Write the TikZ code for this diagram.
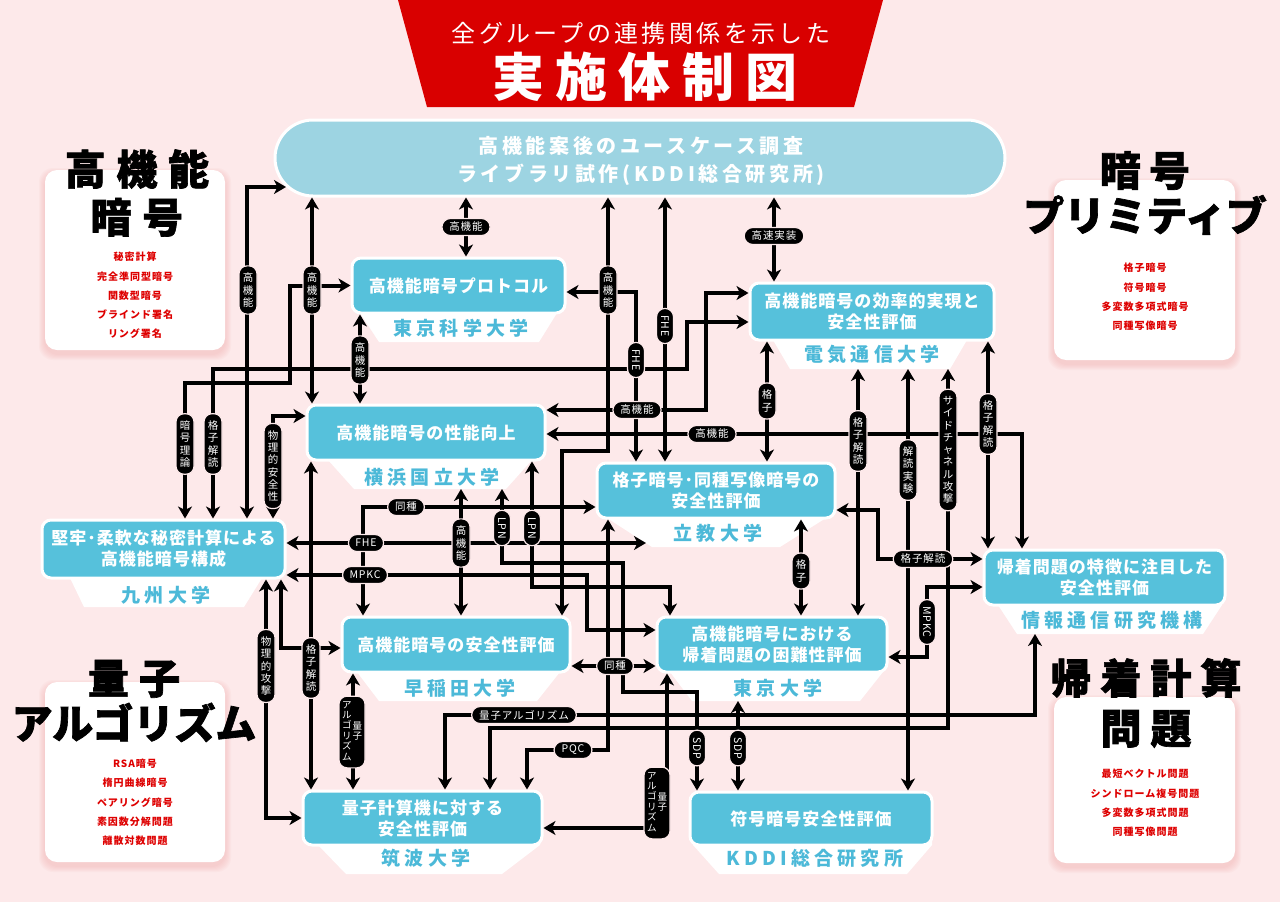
\documentclass[tikz,border=0pt]{standalone}
\usepackage{fontspec}
\setmainfont{Noto Sans CJK JP}
\newfontfamily\heavyfont{Noto Sans CJK JP}[FakeBold=1.6]
\usetikzlibrary{arrows.meta,shapes.misc}
\definecolor{bg}{RGB}{253,233,234}
\definecolor{tred}{RGB}{217,0,0}
\definecolor{bnrc}{RGB}{157,212,226}
\definecolor{bxc}{RGB}{86,193,219}
\definecolor{lblc}{RGB}{76,185,216}
\definecolor{itmc}{RGB}{222,0,0}
\definecolor{shdc}{RGB}{240,170,170}
\newcommand\fs[2]{\fontsize{#1}{#2}\selectfont}
\newcommand\ls[1]{\addfontfeature{LetterSpace=#1}}
\newcommand\vcol[1]{{\renewcommand\arraystretch{0.9}\begin{tabular}{@{}c@{}}#1\end{tabular}}}
\newcommand\catbox[4]{%
  \foreach \i in {1,...,6}{\fill[shdc,opacity=0.08,rounded corners=14pt] ({#1-\i},{#2-\i+4}) rectangle ({#3+\i},{#4+\i+4});}
  \fill[white,rounded corners=12pt] (#1,#2) rectangle (#3,#4);}
\newcommand\lbltab[5]{%
  \fill[white] (#1,{#3-6}) -- (#2,{#3-6}) -- (#2,#3) -- ({#4+#5},{#3+29}) -- ({#4-#5},{#3+29}) -- (#1,#3) -- cycle;}
\tikzset{
  hd/.tip={Stealth[length=12pt,width=14pt,inset=3.5pt]},
  conn/.style={draw=black, line width=4pt, hd-hd},
  box/.style={rectangle, rounded corners=9pt, fill=bxc, draw=white, line width=3pt, text=white, align=center, inner sep=0pt, font=\bfseries\fs{17}{21}\ls{6}},
  tablbl/.style={text=lblc, inner sep=0pt, font=\bfseries\fs{19}{22}\ls{22}},
  hpill/.style={rounded rectangle, fill=black, draw=bg, line width=1.2pt, text=white, minimum height=17pt, inner xsep=6pt, inner ysep=0pt, font=\fs{10.5}{12}\ls{8}},
  vpill/.style={rectangle, rounded corners=8pt, fill=black, draw=bg, line width=1.2pt, text=white, minimum width=18pt, inner xsep=0pt, inner ysep=7pt, align=center, font=\fs{10.5}{12.3}},
  qpill/.style={rectangle, rounded corners=8pt, fill=black, draw=bg, line width=1.2pt, text=white, inner xsep=3pt, inner ysep=5pt, font=\fs{9.5}{10.5}},
  head/.style={text=black, align=center, inner sep=0pt},
  item/.style={text=itmc, align=center, inner sep=0pt, font=\bfseries\fs{10}{19.3}\ls{10}}
}
\begin{document}
\begin{tikzpicture}[x=1pt,y=-1pt]
\useasboundingbox (0,0) rectangle (1280,902);
\fill[bg] (0,0) rectangle (1280,902);
% title
\fill[tred] (398,0) -- (883,0) -- (854,107) -- (427,107) -- cycle;
\node[text=white, inner sep=0pt, font=\fs{24}{28}\ls{14}] (sub) at (641,33) {全グループの連携関係を示した};
\node[text=white, inner sep=0pt, font=\bfseries\fs{52}{56}\ls{22}] (ttl) at (645,77) {実施体制図};
% category boxes
\catbox{45}{170}{225}{350}
\catbox{1054}{180}{1235}{360}
\catbox{45}{682}{225}{862}
\catbox{1054}{697}{1235}{863}
\node[head, font=\heavyfont\bfseries\fs{41}{48}\ls{26}] (h1) at (137,193) {高機能\\暗号};
\node[head, font=\heavyfont\bfseries\fs{41}{45}] (h2) at (1145,193) {{\ls{20}暗号}\\プリミティブ};
\node[head, font=\heavyfont\bfseries\fs{41}{45}] (h3) at (134,701) {{\ls{25}量子}\\アルゴリズム};
\node[head, font=\heavyfont\bfseries\fs{41}{50}\ls{22}] (h4) at (1146,703) {帰着計算\\問題};
\node[item] (i1) at (135,295.5) {秘密計算\\完全準同型暗号\\関数型暗号\\ブラインド署名\\リング署名};
\node[item] (i2) at (1145,297) {格子暗号\\符号暗号\\多変数多項式暗号\\同種写像暗号};
\node[item] (i3) at (135,802.5) {RSA暗号\\楕円曲線暗号\\ペアリング暗号\\素因数分解問題\\離散対数問題};
\node[item] (i4) at (1145,803) {最短ベクトル問題\\シンドローム複号問題\\多変数多項式問題\\同種写像問題};
% banner
\node[rounded rectangle, fill=bnrc, draw=white, line width=3pt, minimum width=730pt, minimum height=76pt, inner sep=0pt] (bnr) at (640,158) {};
\node[text=white, align=center, inner sep=0pt, font=\bfseries\fs{20}{28}\ls{18}] (bnrtxt) at (641,161) {高機能案後のユースケース調査\\ライブラリ試作(KDDI総合研究所)};
\coordinate (bnrL) at (286,187);
% label tabs
\lbltab{360}{557}{313}{459}{80}
\lbltab{773}{967}{340}{870}{80}
\lbltab{328}{532}{460}{430}{76}
\lbltab{607}{826}{518}{716}{64}
\lbltab{70}{262}{578}{164}{80}
\lbltab{998}{1222}{605}{1110}{93}
\lbltab{357}{560}{672}{458}{79}
\lbltab{670}{883}{672}{776}{84}
\lbltab{318}{540}{845}{424}{78}
\lbltab{693}{932}{845}{813}{94}
\coordinate (sciT) at (459,342);
\coordinate (uecT) at (870,369);
\coordinate (ynuT) at (430,489);
\coordinate (rikT) at (716,547);
\coordinate (rikTL) at (646,543);
\coordinate (nictT) at (1110,634);
\coordinate (utoT) at (776,701);
\node[tablbl] (sciL) at (461,328) {東京科学大学};
\node[tablbl] (uecL) at (872,354) {電気通信大学};
\node[tablbl] (ynuL) at (432,477) {横浜国立大学};
\node[tablbl] (rikL) at (718,533) {立教大学};
\node[tablbl] (kyuL) at (166,595) {九州大学};
\node[tablbl] (nictL) at (1112,620) {情報通信研究機構};
\node[tablbl] (wasL) at (460,688) {早稲田大学};
\node[tablbl] (utoL) at (778,688) {東京大学};
\node[tablbl] (tsuL) at (426,858) {筑波大学};
\node[tablbl] (kddiL) at (815,858) {KDDI総合研究所};
% boxes
\node[box, minimum width=213pt, minimum height=55pt] (sci) at (458.5,285.5) {高機能暗号プロトコル};
\node[box, minimum width=244pt, minimum height=57pt] (uec) at (872,311.5) {高機能暗号の効率的実現と\\安全性評価};
\node[box, minimum width=238pt, minimum height=55pt] (ynu) at (426,432.5) {高機能暗号の性能向上};
\node[box, minimum width=238pt, minimum height=55pt] (rik) at (716,490.5) {格子暗号･同種写像暗号の\\安全性評価};
\node[box, minimum width=243pt, minimum height=58pt] (kyu) at (163.5,549) {堅牢･柔軟な秘密計算による\\高機能暗号構成};
\node[box, minimum width=241pt, minimum height=55pt] (nict) at (1104.5,577.5) {帰着問題の特徴に注目した\\安全性評価};
\node[box, minimum width=228pt, minimum height=55pt] (was) at (456,644.5) {高機能暗号の安全性評価};
\node[box, minimum width=230pt, minimum height=55pt] (uto) at (772,644.5) {高機能暗号における\\帰着問題の困難性評価};
\node[box, minimum width=239pt, minimum height=54pt] (tsu) at (422.5,818) {量子計算機に対する\\安全性評価};
\node[box, minimum width=242pt, minimum height=53pt] (kddi) at (811,818.5) {符号暗号安全性評価};
% connectors
\draw[conn] (kyu.north -| 247,0) -- (247,187) -- (bnrL);
\draw[conn] (bnr.south -| 312,0) -- (ynu.north -| 312,0);
\draw[conn] (kyu.north -| 185,0) |- (290,383) |- (sci.west);
\draw[conn] (bnr.south -| 466,0) -- (sci.north -| 466,0);
\draw[conn] (bnr.south -| 608,0) -- (608,451) -| (was.north -| 562,0);
\draw[conn] (sci.east |- 0,292) -| (rik.north -| 636,0);
\draw[conn] (bnr.south -| 665,0) -- (rik.north -| 665,0);
\draw[conn] (bnr.south -| 774,0) -- (uec.north -| 774,0);
\draw[conn] (sci.south -| 360,0) -- (ynu.north -| 360,0);
\draw[conn] (kyu.north -| 213,0) |- (687,369) |- (uec.west |- 0,322);
\draw[conn] (ynu.east |- 0,410) -| (706,293) -- (uec.west |- 0,293);
\draw[conn] (ynu.east |- 0,434) -| (nict.north -| 1022,0);
\draw[conn] (kyu.north -| 273,0) |- (ynu.west |- 0,416);
\draw[conn] (uec.south -| 767,0) -- (rik.north -| 767,0);
\draw[conn] (uecT -| 858,0) -- (uto.north -| 858,0);
\draw[conn] (uecT -| 908,0) -- (kddi.north -| 908,0);
\draw[conn] (uecT -| 948,0) |- (490,728) -- (tsu.north -| 490,0);
\draw[conn] (uec.south -| 988,0) -- (nict.north -| 988,0);
\draw[conn] (rik.east |- 0,510) -| (878,559) -- (nict.west |- 0,559);
\draw[conn] (uto.east |- 0,657) -| (927,587) -- (nict.west |- 0,587);
\draw[conn] (rik.south -| 801,0) -- (uto.north -| 801,0);
\draw[conn] (kyu.east |- 0,543) -- (rikTL);
\draw[conn] (was.north -| 363,0) |- (rik.west |- 0,507);
\draw[conn] (kyu.east |- 0,575) -| (587,630) -- (uto.west |- 0,630);
\draw[conn] (ynuT -| 461,0) -- (was.north -| 461,0);
\draw[conn] (ynu.south -| 532,0) |- (670,587) -- (uto.north -| 670,0);
\draw[conn] (ynuT -| 502,0) |- (623,563) |- (697,692) -- (kddi.north -| 697,0);
\draw[conn] (rik.south -| 608,0) |- (527,750) -- (tsu.north -| 527,0);
\draw[conn] (utoT -| 738,0) -- (kddi.north -| 738,0);
\draw[conn] (was.east |- 0,666) -- (uto.west |- 0,666);
\draw[conn] (was.south -| 353,0) -- (tsu.north -| 353,0);
\draw[conn] (tsu.north -| 445,0) |- (1035,715) -- (nictT -| 1035,0);
\draw[conn] (uto.south -| 667,0) |- (tsu.east |- 0,828);
\draw[conn] (ynu.south -| 311,0) -- (tsu.north -| 311,0);
\draw[conn] (kyu.south -| 281,0) |- (was.west |- 0,648);
\draw[conn] (kyu.south -| 266,0) |- (tsu.west |- 0,818);
% pills
\node[vpill] (p1) at (248,290) {高\\機\\能};
\node[vpill] (p2) at (312,290) {高\\機\\能};
\node[vpill] (p3) at (185,444) {暗\\号\\理\\論};
\node[hpill] (p4) at (466,227) {高機能};
\node[vpill] (p5) at (608,290) {高\\機\\能};
\node[hpill,rotate=-90] (p6) at (636,360) {FHE};
\node[hpill,rotate=-90] (p7) at (665,326) {FHE};
\node[hpill] (p8) at (774,236) {高速実装};
\node[vpill] (p9) at (360,360) {高\\機\\能};
\node[vpill] (p10) at (213,444) {格\\子\\解\\読};
\node[hpill] (p11) at (637,410) {高機能};
\node[hpill] (p12) at (712,434) {高機能};
\node[vpill] (p13) at (273,466) {物\\理\\的\\安\\全\\性};
\node[vpill] (p14) at (767,401) {格\\子};
\node[vpill] (p15) at (858,441) {格\\子\\解\\読};
\node[vpill] (p16) at (908,470) {解\\読\\実\\験};
\node[vpill] (p17) at (948,450) {サ\\イ\\ド\\チ\\ャ\\ネ\\ル\\攻\\撃};
\node[vpill] (p18) at (988,424) {格\\子\\解\\読};
\node[hpill] (p19) at (923,559) {格子解読};
\node[hpill,rotate=-90] (p20) at (927,622) {MPKC};
\node[vpill] (p21) at (801,571) {格\\子};
\node[hpill] (p22) at (366,543) {FHE};
\node[hpill] (p23) at (406,507) {同種};
\node[hpill] (p24) at (365,575) {MPKC};
\node[vpill] (p25) at (461,543) {高\\機\\能};
\node[hpill,rotate=-90] (p26) at (532,528) {LPN};
\node[hpill,rotate=-90] (p27) at (502,528) {LPN};
\node[hpill] (p28) at (573,750) {PQC};
\node[hpill,rotate=-90] (p29) at (738,748) {SDP};
\node[hpill] (p30) at (615,666) {同種};
\node[qpill] (p31) at (352,732) {\vcol{ア\\ル\\ゴ\\リ\\ズ\\ム}\hspace{1pt}\vcol{量\\子}};
\node[hpill] (p32) at (524,715) {量子アルゴリズム};
\node[qpill] (p33) at (657,803) {\vcol{ア\\ル\\ゴ\\リ\\ズ\\ム}\hspace{1pt}\vcol{量\\子}};
\node[vpill] (p34) at (311,668) {格\\子\\解\\読};
\node[hpill,rotate=-90] (p35) at (697,748) {SDP};
\node[vpill] (p36) at (266,666) {物\\理\\的\\攻\\撃};
\end{tikzpicture}
\end{document}
